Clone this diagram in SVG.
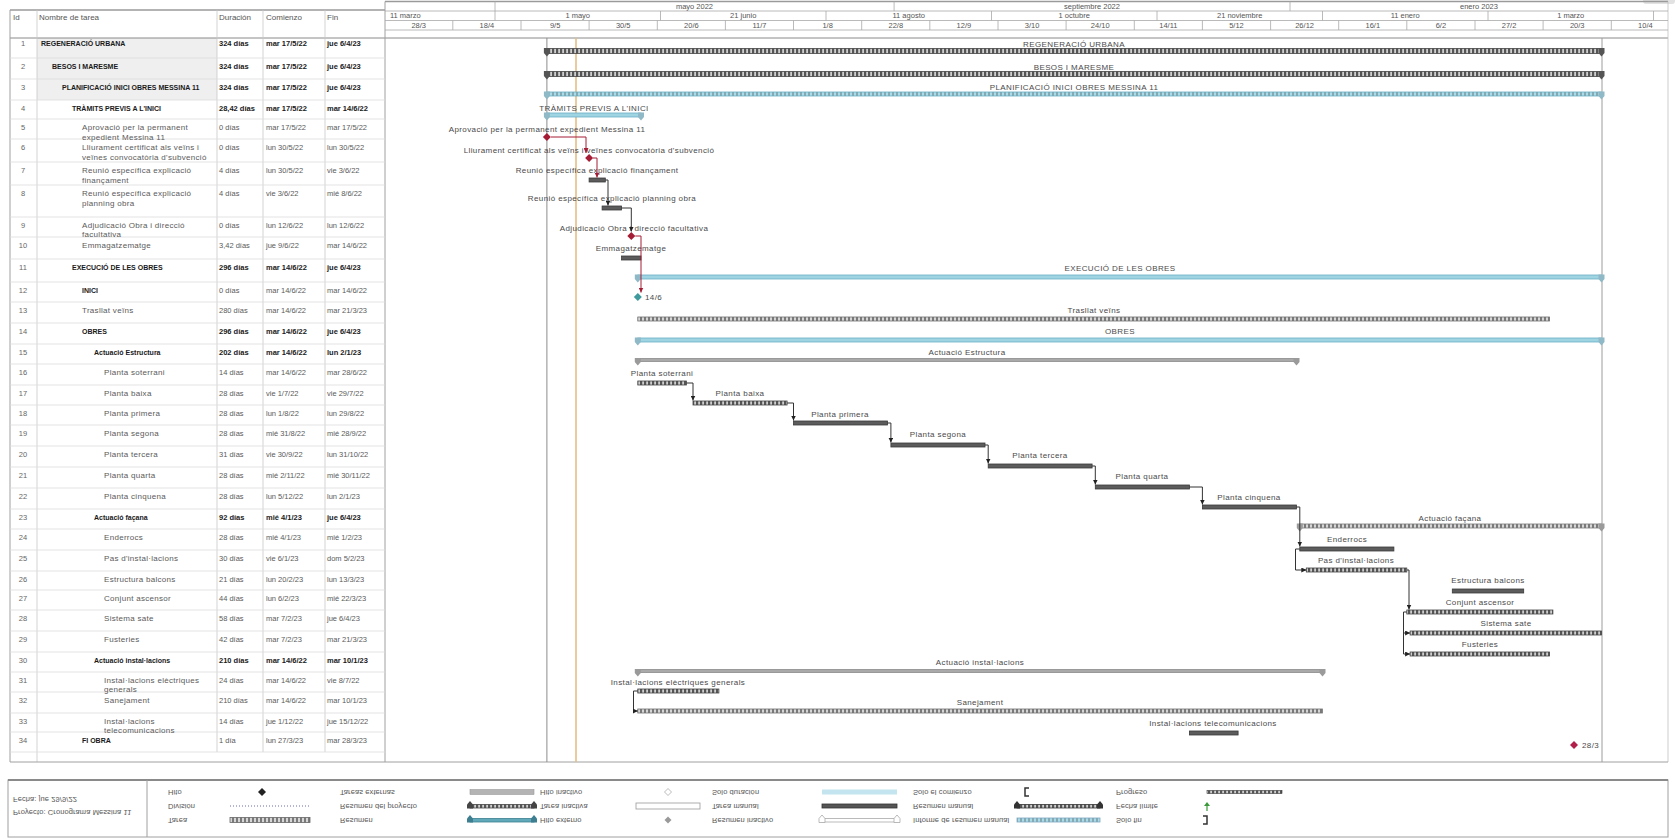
<svg xmlns="http://www.w3.org/2000/svg" width="1675" height="839" viewBox="0 0 1675 839">
<style>
text{font-family:"Liberation Sans",Arial,sans-serif}
.hd{font-size:8px;fill:#555}
.id{font-size:7.5px;fill:#666;text-anchor:middle}
.n{font-size:8px;fill:#5a5a5a;letter-spacing:0.3px}
.nb{font-size:7px;fill:#1a1a1a;font-weight:bold}
.c{font-size:7.5px;fill:#5a5a5a}
.cb{font-size:7.5px;fill:#1a1a1a;font-weight:bold}
.gl{font-size:8px;fill:#4a4a4a;text-anchor:middle;letter-spacing:0.4px}
.ts{font-size:7.5px;fill:#555;text-anchor:middle}
.lg{font-size:7.5px;fill:#555;dominant-baseline:central;letter-spacing:0.1px}
.grid{stroke:#dcdcdc;stroke-width:0.8}
.col{stroke:#c8c8c8;stroke-width:0.8}
.tl{stroke:#a8a8a8;stroke-width:0.8}
.proj{fill:url(#hd);stroke:#444;stroke-width:0.8}
.cap-dk{fill:#555}
.sumb{fill:#9fd4e3;stroke:#6aaec2;stroke-width:0.8}
.sumbh{fill:url(#hb);stroke:#6aaec2;stroke-width:0.8}
.cap-b{fill:#8fb9c6}
.sumg{fill:#a9a9a9;stroke:#8a8a8a;stroke-width:0.8}
.sumgh{fill:url(#hg);stroke:#7a7a7a;stroke-width:0.8}
.cap-g{fill:#9a9a9a}
.tk{fill:#5c5c5c;stroke:#3a3a3a;stroke-width:0.8}
.tkh{fill:url(#hd);stroke:#444;stroke-width:0.8}
.tkg{fill:url(#hg);stroke:#707070;stroke-width:0.8}
.ms-r{fill:#a51d35}
.ms-t{fill:#3e9a9c}
.lk{fill:none;stroke:#333;stroke-width:1}
.lkr{fill:none;stroke:#a51d35;stroke-width:1}
</style>
<defs>
<pattern id="hd" width="4" height="8" patternUnits="userSpaceOnUse"><rect width="4" height="8" fill="#cfcfcf"/><rect width="2.2" height="8" fill="#555"/></pattern>
<pattern id="hg" width="4" height="8" patternUnits="userSpaceOnUse"><rect width="4" height="8" fill="#d6d6d6"/><rect width="2" height="8" fill="#7a7a7a"/></pattern>
<pattern id="hb" width="4" height="8" patternUnits="userSpaceOnUse"><rect width="4" height="8" fill="#a9dbe8"/><rect width="2" height="8" fill="#86a9b2"/></pattern>
<marker id="ak" viewBox="0 0 6 6" refX="6" refY="3" markerWidth="5" markerHeight="5" orient="auto" markerUnits="userSpaceOnUse"><path d="M0,0 L6,3 L0,6 z" fill="#222"/></marker>
<marker id="ar" viewBox="0 0 6 6" refX="6" refY="3" markerWidth="5" markerHeight="5" orient="auto" markerUnits="userSpaceOnUse"><path d="M0,0 L6,3 L0,6 z" fill="#a51d35"/></marker>
</defs>

<rect width="1675" height="839" fill="#fff"/>
<rect x="1643" y="-3" width="32" height="7" rx="3" fill="#e2e2e2"/>

<!-- sheet frame, header and grid -->
<g id="sheet">
  <rect x="37" y="38" width="180" height="62" fill="#efefef"/>
  <line x1="10" y1="10" x2="385" y2="10" stroke="#9a9a9a" stroke-width="1.6"/>
  <line x1="385" y1="1.5" x2="1668" y2="1.5" stroke="#9a9a9a" stroke-width="1.4"/>
  <line x1="10" y1="38" x2="1668" y2="38" stroke="#8a8a8a" stroke-width="1"/>
  <line x1="10" y1="10" x2="10" y2="762" stroke="#a0a0a0" stroke-width="1"/>
  <line x1="37" y1="10" x2="37" y2="762" class="col"/>
  <line x1="217" y1="10" x2="217" y2="752" class="col"/>
  <line x1="263" y1="10" x2="263" y2="752" class="col"/>
  <line x1="325" y1="10" x2="325" y2="752" class="col"/>
  <line x1="385" y1="1.5" x2="385" y2="762" stroke="#a0a0a0" stroke-width="1"/>
  <line x1="1668" y1="1.5" x2="1668" y2="762" stroke="#c0c0c0" stroke-width="0.8"/>
  <line x1="10" y1="762" x2="1668" y2="762" stroke="#a0a0a0" stroke-width="1"/>
  <g class="grid">
    <line x1="10" y1="58" x2="385" y2="58"/><line x1="10" y1="79" x2="385" y2="79"/>
    <line x1="10" y1="100" x2="385" y2="100"/><line x1="10" y1="119" x2="385" y2="119"/>
    <line x1="10" y1="139" x2="385" y2="139"/><line x1="10" y1="162" x2="385" y2="162"/>
    <line x1="10" y1="185" x2="385" y2="185"/><line x1="10" y1="217" x2="385" y2="217"/>
    <line x1="10" y1="237" x2="385" y2="237"/><line x1="10" y1="259" x2="385" y2="259"/>
    <line x1="10" y1="282" x2="385" y2="282"/><line x1="10" y1="302" x2="385" y2="302"/>
    <line x1="10" y1="323" x2="385" y2="323"/><line x1="10" y1="344" x2="385" y2="344"/>
    <line x1="10" y1="364" x2="385" y2="364"/><line x1="10" y1="385" x2="385" y2="385"/>
    <line x1="10" y1="405" x2="385" y2="405"/><line x1="10" y1="425" x2="385" y2="425"/>
    <line x1="10" y1="446" x2="385" y2="446"/><line x1="10" y1="467" x2="385" y2="467"/>
    <line x1="10" y1="488" x2="385" y2="488"/><line x1="10" y1="509" x2="385" y2="509"/>
    <line x1="10" y1="529" x2="385" y2="529"/><line x1="10" y1="550" x2="385" y2="550"/>
    <line x1="10" y1="571" x2="385" y2="571"/><line x1="10" y1="590" x2="385" y2="590"/>
    <line x1="10" y1="610" x2="385" y2="610"/><line x1="10" y1="631" x2="385" y2="631"/>
    <line x1="10" y1="652" x2="385" y2="652"/><line x1="10" y1="672" x2="385" y2="672"/>
    <line x1="10" y1="692" x2="385" y2="692"/><line x1="10" y1="713" x2="385" y2="713"/>
    <line x1="10" y1="732" x2="385" y2="732"/><line x1="10" y1="752" x2="385" y2="752"/>
  </g>
  <text class="hd" x="13" y="20">Id</text>
  <text class="hd" x="39" y="20">Nombre de tarea</text>
  <text class="hd" x="219" y="20">Duración</text>
  <text class="hd" x="266" y="20">Comienzo</text>
  <text class="hd" x="327" y="20">Fin</text>
</g>

<!-- timescale -->
<g id="timescale">
  <line x1="385" y1="11" x2="1668" y2="11" class="tl"/>
  <line x1="385" y1="20.5" x2="1668" y2="20.5" class="tl"/>
  <line x1="385" y1="30" x2="1668" y2="30" class="tl"/>
  <g class="tl">
    <line x1="495" y1="1.5" x2="495" y2="11"/><line x1="894.1" y1="1.5" x2="894.1" y2="11"/><line x1="1290" y1="1.5" x2="1290" y2="11"/>
    <line x1="495" y1="11" x2="495" y2="20.5"/><line x1="660.5" y1="11" x2="660.5" y2="20.5"/><line x1="826" y1="11" x2="826" y2="20.5"/>
    <line x1="991.5" y1="11" x2="991.5" y2="20.5"/><line x1="1157" y1="11" x2="1157" y2="20.5"/><line x1="1322.5" y1="11" x2="1322.5" y2="20.5"/>
    <line x1="1488" y1="11" x2="1488" y2="20.5"/><line x1="1653.5" y1="11" x2="1653.5" y2="20.5"/>
    <line x1="452.8" y1="20.5" x2="452.8" y2="30"/><line x1="521" y1="20.5" x2="521" y2="30"/><line x1="589.1" y1="20.5" x2="589.1" y2="30"/>
    <line x1="657.3" y1="20.5" x2="657.3" y2="30"/><line x1="725.4" y1="20.5" x2="725.4" y2="30"/><line x1="793.5" y1="20.5" x2="793.5" y2="30"/>
    <line x1="861.7" y1="20.5" x2="861.7" y2="30"/><line x1="929.8" y1="20.5" x2="929.8" y2="30"/><line x1="998" y1="20.5" x2="998" y2="30"/>
    <line x1="1066.1" y1="20.5" x2="1066.1" y2="30"/><line x1="1134.3" y1="20.5" x2="1134.3" y2="30"/><line x1="1202.4" y1="20.5" x2="1202.4" y2="30"/>
    <line x1="1270.6" y1="20.5" x2="1270.6" y2="30"/><line x1="1338.7" y1="20.5" x2="1338.7" y2="30"/><line x1="1406.8" y1="20.5" x2="1406.8" y2="30"/>
    <line x1="1475" y1="20.5" x2="1475" y2="30"/><line x1="1543.1" y1="20.5" x2="1543.1" y2="30"/><line x1="1611.3" y1="20.5" x2="1611.3" y2="30"/>
  </g>
  <text class="ts" x="694.5" y="8.5">mayo 2022</text>
  <text class="ts" x="1092" y="8.5">septiembre 2022</text>
  <text class="ts" x="1479" y="8.5">enero 2023</text>
  <text class="ts" x="390" y="18" style="text-anchor:start">11 marzo</text>
  <text class="ts" x="577.7" y="18">1 mayo</text>
  <text class="ts" x="743.2" y="18">21 junio</text>
  <text class="ts" x="908.7" y="18">11 agosto</text>
  <text class="ts" x="1074.2" y="18">1 octubre</text>
  <text class="ts" x="1239.7" y="18">21 noviembre</text>
  <text class="ts" x="1405.2" y="18">11 enero</text>
  <text class="ts" x="1570.7" y="18">1 marzo</text>
  <text class="ts" x="418.7" y="27.5">28/3</text><text class="ts" x="486.9" y="27.5">18/4</text>
  <text class="ts" x="555.1" y="27.5">9/5</text><text class="ts" x="623.2" y="27.5">30/5</text>
  <text class="ts" x="691.4" y="27.5">20/6</text><text class="ts" x="759.5" y="27.5">11/7</text>
  <text class="ts" x="827.6" y="27.5">1/8</text><text class="ts" x="895.8" y="27.5">22/8</text>
  <text class="ts" x="963.9" y="27.5">12/9</text><text class="ts" x="1032.1" y="27.5">3/10</text>
  <text class="ts" x="1100.2" y="27.5">24/10</text><text class="ts" x="1168.4" y="27.5">14/11</text>
  <text class="ts" x="1236.5" y="27.5">5/12</text><text class="ts" x="1304.6" y="27.5">26/12</text>
  <text class="ts" x="1372.8" y="27.5">16/1</text><text class="ts" x="1440.9" y="27.5">6/2</text>
  <text class="ts" x="1509.1" y="27.5">27/2</text><text class="ts" x="1577.2" y="27.5">20/3</text>
  <text class="ts" x="1645.4" y="27.5">10/4</text>
</g>

<!-- project start / finish and status lines -->
<g id="markers">
  <line x1="546.9" y1="38" x2="546.9" y2="762" stroke="#8c8c8c" stroke-width="1"/>
  <line x1="1602" y1="38" x2="1602" y2="762" stroke="#9c9c9c" stroke-width="1"/>
  <line x1="576" y1="38" x2="576" y2="762" stroke="#e6bd86" stroke-width="1.6"/>
</g>

<g id="task-1">
  <text class="id" x="23" y="46">1</text>
  <text class="nb" x="41" y="46">REGENERACIÓ URBANA</text>
  <text class="cb" x="219" y="46">324 días</text><text class="cb" x="266" y="46">mar 17/5/22</text><text class="cb" x="327" y="46">jue 6/4/23</text>
  <rect class="proj" x="546.9" y="48.5" width="1054.6" height="5"/>
  <polygon class="cap-dk" points="543.9,48 549.9,48 549.9,53 546.9,56.5 543.9,53"/>
  <polygon class="cap-dk" points="1598.5,48 1604.5,48 1604.5,53 1601.5,56.5 1598.5,53"/>
  <text class="gl" x="1074" y="47">REGENERACIÓ URBANA</text>
</g>
<g id="task-2">
  <text class="id" x="23" y="69">2</text>
  <text class="nb" x="52" y="69">BESOS I MARESME</text>
  <text class="cb" x="219" y="69">324 días</text><text class="cb" x="266" y="69">mar 17/5/22</text><text class="cb" x="327" y="69">jue 6/4/23</text>
  <rect class="proj" x="546.9" y="71.5" width="1054.6" height="5"/>
  <polygon class="cap-dk" points="543.9,71 549.9,71 549.9,76 546.9,79.5 543.9,76"/>
  <polygon class="cap-dk" points="1598.5,71 1604.5,71 1604.5,76 1601.5,79.5 1598.5,76"/>
  <text class="gl" x="1074" y="70">BESOS I MARESME</text>
</g>
<g id="task-3">
  <text class="id" x="23" y="90">3</text>
  <text class="nb" x="62" y="90">PLANIFICACIÓ INICI OBRES MESSINA 11</text>
  <text class="cb" x="219" y="90">324 días</text><text class="cb" x="266" y="90">mar 17/5/22</text><text class="cb" x="327" y="90">jue 6/4/23</text>
  <rect class="sumbh" x="546.9" y="92" width="1054.6" height="4"/>
  <polygon class="cap-b" points="543.9,91.5 549.9,91.5 549.9,96 546.9,99.5 543.9,96"/>
  <polygon class="cap-b" points="1598.5,91.5 1604.5,91.5 1604.5,96 1601.5,99.5 1598.5,96"/>
  <text class="gl" x="1074" y="90">PLANIFICACIÓ INICI OBRES MESSINA 11</text>
</g>
<g id="task-4">
  <text class="id" x="23" y="111">4</text>
  <text class="nb" x="72" y="111">TRÀMITS PREVIS A L'INICI</text>
  <text class="cb" x="219" y="111">28,42 días</text><text class="cb" x="266" y="111">mar 17/5/22</text><text class="cb" x="327" y="111">mar 14/6/22</text>
  <rect class="sumb" x="546.9" y="113" width="94.1" height="4"/>
  <polygon class="cap-b" points="543.9,112.5 549.9,112.5 549.9,117 546.9,120.5 543.9,117"/>
  <polygon class="cap-b" points="638,112.5 644,112.5 644,117 641,120.5 638,117"/>
  <text class="gl" x="594" y="111">TRÀMITS PREVIS A L'INICI</text>
</g>
<g id="task-5">
  <text class="id" x="23" y="130">5</text>
  <text class="n" x="82" y="130">Aprovació per la permanent</text>
  <text class="n" x="82" y="139.5">expedient Messina 11</text>
  <text class="c" x="219" y="130">0 días</text><text class="c" x="266" y="130">mar 17/5/22</text><text class="c" x="327" y="130">mar 17/5/22</text>
  <polygon class="ms-r" points="546.9,133 550.9,137 546.9,141 542.9,137"/>
  <text class="gl" x="547" y="132">Aprovació per la permanent expedient Messina 11</text>
</g>
<g id="task-6">
  <text class="id" x="23" y="150">6</text>
  <text class="n" x="82" y="150">Lliurament certificat als veïns i</text>
  <text class="n" x="82" y="159.5">veïnes convocatòria d'subvenció</text>
  <text class="c" x="219" y="150">0 días</text><text class="c" x="266" y="150">lun 30/5/22</text><text class="c" x="327" y="150">lun 30/5/22</text>
  <polygon class="ms-r" points="589.1,154 593.1,158 589.1,162 585.1,158"/>
  <text class="gl" x="589" y="153">Lliurament certificat als veïns i veïnes convocatòria d'subvenció</text>
</g>
<g id="task-7">
  <text class="id" x="23" y="173">7</text>
  <text class="n" x="82" y="173">Reunió específica explicació</text>
  <text class="n" x="82" y="182.5">finançament</text>
  <text class="c" x="219" y="173">4 días</text><text class="c" x="266" y="173">lun 30/5/22</text><text class="c" x="327" y="173">vie 3/6/22</text>
  <rect class="tk" x="589.1" y="178" width="16.2" height="4"/>
  <text class="gl" x="597" y="173">Reunió específica explicació finançament</text>
</g>
<g id="task-8">
  <text class="id" x="23" y="196">8</text>
  <text class="n" x="82" y="196">Reunió específica explicació</text>
  <text class="n" x="82" y="206">planning obra</text>
  <text class="c" x="219" y="196">4 días</text><text class="c" x="266" y="196">vie 3/6/22</text><text class="c" x="327" y="196">mié 8/6/22</text>
  <rect class="tk" x="602.1" y="206" width="19.5" height="4"/>
  <text class="gl" x="612" y="201">Reunió específica explicació planning obra</text>
</g>
<g id="task-9">
  <text class="id" x="23" y="228">9</text>
  <text class="n" x="82" y="228">Adjudicació Obra i direcció</text>
  <text class="n" x="82" y="237">facultativa</text>
  <text class="c" x="219" y="228">0 días</text><text class="c" x="266" y="228">lun 12/6/22</text><text class="c" x="327" y="228">lun 12/6/22</text>
  <polygon class="ms-r" points="631.3,232 635.3,236 631.3,240 627.3,236"/>
  <text class="gl" x="634" y="231">Adjudicació Obra i direcció facultativa</text>
</g>
<g id="task-10">
  <text class="id" x="23" y="248">10</text>
  <text class="n" x="82" y="248">Emmagatzematge</text>
  <text class="c" x="219" y="248">3,42 días</text><text class="c" x="266" y="248">jue 9/6/22</text><text class="c" x="327" y="248">mar 14/6/22</text>
  <rect class="tk" x="621.6" y="256" width="19.4" height="4"/>
  <text class="gl" x="631" y="251">Emmagatzematge</text>
</g>
<g id="task-11">
  <text class="id" x="23" y="270">11</text>
  <text class="nb" x="72" y="270">EXECUCIÓ DE LES OBRES</text>
  <text class="cb" x="219" y="270">296 días</text><text class="cb" x="266" y="270">mar 14/6/22</text><text class="cb" x="327" y="270">jue 6/4/23</text>
  <rect class="sumb" x="637.8" y="275" width="963.7" height="4"/>
  <polygon class="cap-b" points="634.8,274.5 640.8,274.5 640.8,279 637.8,282.5 634.8,279"/>
  <polygon class="cap-b" points="1598.5,274.5 1604.5,274.5 1604.5,279 1601.5,282.5 1598.5,279"/>
  <text class="gl" x="1120" y="271">EXECUCIÓ DE LES OBRES</text>
</g>
<g id="task-12">
  <text class="id" x="23" y="293">12</text>
  <text class="nb" x="82" y="293">INICI</text>
  <text class="c" x="219" y="293">0 días</text><text class="c" x="266" y="293">mar 14/6/22</text><text class="c" x="327" y="293">mar 14/6/22</text>
  <polygon class="ms-t" points="637.8,293 641.8,297 637.8,301 633.8,297"/>
  <text class="gl" x="645" y="299.5" style="text-anchor:start">14/6</text>
</g>
<g id="task-13">
  <text class="id" x="23" y="313">13</text>
  <text class="n" x="82" y="313">Trasllat veïns</text>
  <text class="c" x="219" y="313">280 días</text><text class="c" x="266" y="313">mar 14/6/22</text><text class="c" x="327" y="313">mar 21/3/23</text>
  <rect class="tkg" x="637.8" y="317" width="911.8" height="4"/>
  <text class="gl" x="1094" y="313">Trasllat veïns</text>
</g>
<g id="task-14">
  <text class="id" x="23" y="334">14</text>
  <text class="nb" x="82" y="334">OBRES</text>
  <text class="cb" x="219" y="334">296 días</text><text class="cb" x="266" y="334">mar 14/6/22</text><text class="cb" x="327" y="334">jue 6/4/23</text>
  <rect class="sumb" x="637.8" y="338" width="963.7" height="4"/>
  <polygon class="cap-b" points="634.8,337.5 640.8,337.5 640.8,342 637.8,345.5 634.8,342"/>
  <polygon class="cap-b" points="1598.5,337.5 1604.5,337.5 1604.5,342 1601.5,345.5 1598.5,342"/>
  <text class="gl" x="1120" y="334">OBRES</text>
</g>
<g id="task-15">
  <text class="id" x="23" y="355">15</text>
  <text class="nb" x="94" y="355">Actuació Estructura</text>
  <text class="cb" x="219" y="355">202 días</text><text class="cb" x="266" y="355">mar 14/6/22</text><text class="cb" x="327" y="355">lun 2/1/23</text>
  <rect class="sumg" x="637.8" y="358.5" width="658.7" height="3"/>
  <polygon class="cap-g" points="634.8,358 640.8,358 640.8,362 637.8,365.5 634.8,362"/>
  <polygon class="cap-g" points="1293.5,358 1299.5,358 1299.5,362 1296.5,365.5 1293.5,362"/>
  <text class="gl" x="967" y="355">Actuació Estructura</text>
</g>
<g id="task-16">
  <text class="id" x="23" y="375">16</text>
  <text class="n" x="104" y="375">Planta soterrani</text>
  <text class="c" x="219" y="375">14 días</text><text class="c" x="266" y="375">mar 14/6/22</text><text class="c" x="327" y="375">mar 28/6/22</text>
  <rect class="tkh" x="637.8" y="381" width="48.7" height="4"/>
  <text class="gl" x="662" y="376">Planta soterrani</text>
</g>
<g id="task-17">
  <text class="id" x="23" y="396">17</text>
  <text class="n" x="104" y="396">Planta baixa</text>
  <text class="c" x="219" y="396">28 días</text><text class="c" x="266" y="396">vie 1/7/22</text><text class="c" x="327" y="396">vie 29/7/22</text>
  <rect class="tkh" x="693" y="401" width="94.1" height="4"/>
  <text class="gl" x="740" y="396">Planta baixa</text>
</g>
<g id="task-18">
  <text class="id" x="23" y="416">18</text>
  <text class="n" x="104" y="416">Planta primera</text>
  <text class="c" x="219" y="416">28 días</text><text class="c" x="266" y="416">lun 1/8/22</text><text class="c" x="327" y="416">lun 29/8/22</text>
  <rect class="tk" x="793.5" y="421" width="94.1" height="4"/>
  <text class="gl" x="840" y="417">Planta primera</text>
</g>
<g id="task-19">
  <text class="id" x="23" y="436">19</text>
  <text class="n" x="104" y="436">Planta segona</text>
  <text class="c" x="219" y="436">28 días</text><text class="c" x="266" y="436">mié 31/8/22</text><text class="c" x="327" y="436">mié 28/9/22</text>
  <rect class="tk" x="890.9" y="443" width="94.1" height="4"/>
  <text class="gl" x="938" y="437">Planta segona</text>
</g>
<g id="task-20">
  <text class="id" x="23" y="457">20</text>
  <text class="n" x="104" y="457">Planta tercera</text>
  <text class="c" x="219" y="457">31 días</text><text class="c" x="266" y="457">vie 30/9/22</text><text class="c" x="327" y="457">lun 31/10/22</text>
  <rect class="tk" x="988.2" y="464" width="103.9" height="4"/>
  <text class="gl" x="1040" y="458">Planta tercera</text>
</g>
<g id="task-21">
  <text class="id" x="23" y="478">21</text>
  <text class="n" x="104" y="478">Planta quarta</text>
  <text class="c" x="219" y="478">28 días</text><text class="c" x="266" y="478">mié 2/11/22</text><text class="c" x="327" y="478">mié 30/11/22</text>
  <rect class="tk" x="1095.3" y="485" width="94.1" height="4"/>
  <text class="gl" x="1142" y="479">Planta quarta</text>
</g>
<g id="task-22">
  <text class="id" x="23" y="499">22</text>
  <text class="n" x="104" y="499">Planta cinquena</text>
  <text class="c" x="219" y="499">28 días</text><text class="c" x="266" y="499">lun 5/12/22</text><text class="c" x="327" y="499">lun 2/1/23</text>
  <rect class="tk" x="1202.4" y="505" width="94.1" height="4"/>
  <text class="gl" x="1249" y="500">Planta cinquena</text>
</g>
<g id="task-23">
  <text class="id" x="23" y="520">23</text>
  <text class="nb" x="94" y="520">Actuació façana</text>
  <text class="cb" x="219" y="520">92 días</text><text class="cb" x="266" y="520">mié 4/1/23</text><text class="cb" x="327" y="520">jue 6/4/23</text>
  <rect class="sumgh" x="1299.8" y="524" width="301.7" height="4"/>
  <polygon class="cap-g" points="1296.8,523.5 1302.8,523.5 1302.8,528 1299.8,531.5 1296.8,528"/>
  <polygon class="cap-g" points="1598.5,523.5 1604.5,523.5 1604.5,528 1601.5,531.5 1598.5,528"/>
  <text class="gl" x="1450" y="521">Actuació façana</text>
</g>
<g id="task-24">
  <text class="id" x="23" y="540">24</text>
  <text class="n" x="104" y="540">Enderrocs</text>
  <text class="c" x="219" y="540">28 días</text><text class="c" x="266" y="540">mié 4/1/23</text><text class="c" x="327" y="540">mié 1/2/23</text>
  <rect class="tk" x="1299.8" y="547" width="94.1" height="4"/>
  <text class="gl" x="1347" y="542">Enderrocs</text>
</g>
<g id="task-25">
  <text class="id" x="23" y="561">25</text>
  <text class="n" x="104" y="561">Pas d'instal·lacions</text>
  <text class="c" x="219" y="561">30 días</text><text class="c" x="266" y="561">vie 6/1/23</text><text class="c" x="327" y="561">dom 5/2/23</text>
  <rect class="tkh" x="1306.3" y="568" width="100.5" height="4"/>
  <text class="gl" x="1356" y="563">Pas d'instal·lacions</text>
</g>
<g id="task-26">
  <text class="id" x="23" y="582">26</text>
  <text class="n" x="104" y="582">Estructura balcons</text>
  <text class="c" x="219" y="582">21 días</text><text class="c" x="266" y="582">lun 20/2/23</text><text class="c" x="327" y="582">lun 13/3/23</text>
  <rect class="tk" x="1452.3" y="589" width="71.4" height="4"/>
  <text class="gl" x="1488" y="583">Estructura balcons</text>
</g>
<g id="task-27">
  <text class="id" x="23" y="601">27</text>
  <text class="n" x="104" y="601">Conjunt ascensor</text>
  <text class="c" x="219" y="601">44 días</text><text class="c" x="266" y="601">lun 6/2/23</text><text class="c" x="327" y="601">mié 22/3/23</text>
  <rect class="tkh" x="1406.8" y="610" width="146.1" height="4"/>
  <text class="gl" x="1480" y="605">Conjunt ascensor</text>
</g>
<g id="task-28">
  <text class="id" x="23" y="621">28</text>
  <text class="n" x="104" y="621">Sistema sate</text>
  <text class="c" x="219" y="621">58 días</text><text class="c" x="266" y="621">mar 7/2/23</text><text class="c" x="327" y="621">jue 6/4/23</text>
  <rect class="tkh" x="1410.1" y="631" width="191.4" height="4"/>
  <text class="gl" x="1506" y="626">Sistema sate</text>
</g>
<g id="task-29">
  <text class="id" x="23" y="642">29</text>
  <text class="n" x="104" y="642">Fusteries</text>
  <text class="c" x="219" y="642">42 días</text><text class="c" x="266" y="642">mar 7/2/23</text><text class="c" x="327" y="642">mar 21/3/23</text>
  <rect class="tkh" x="1410.1" y="652" width="139.5" height="4"/>
  <text class="gl" x="1480" y="647">Fusteries</text>
</g>
<g id="task-30">
  <text class="id" x="23" y="663">30</text>
  <text class="nb" x="94" y="663">Actuació instal·lacions</text>
  <text class="cb" x="219" y="663">210 días</text><text class="cb" x="266" y="663">mar 14/6/22</text><text class="cb" x="327" y="663">mar 10/1/23</text>
  <rect class="sumg" x="637.8" y="669.5" width="684.7" height="3"/>
  <polygon class="cap-g" points="634.8,669 640.8,669 640.8,673 637.8,676.5 634.8,673"/>
  <polygon class="cap-g" points="1319.5,669 1325.5,669 1325.5,673 1322.5,676.5 1319.5,673"/>
  <text class="gl" x="980" y="665">Actuació instal·lacions</text>
</g>
<g id="task-31">
  <text class="id" x="23" y="683">31</text>
  <text class="n" x="104" y="683">Instal·lacions elèctriques</text>
  <text class="n" x="104" y="692">generals</text>
  <text class="c" x="219" y="683">24 días</text><text class="c" x="266" y="683">mar 14/6/22</text><text class="c" x="327" y="683">vie 8/7/22</text>
  <rect class="tkh" x="637.8" y="689" width="81.1" height="4"/>
  <text class="gl" x="678" y="685">Instal·lacions elèctriques generals</text>
</g>
<g id="task-32">
  <text class="id" x="23" y="703">32</text>
  <text class="n" x="104" y="703">Sanejament</text>
  <text class="c" x="219" y="703">210 días</text><text class="c" x="266" y="703">mar 14/6/22</text><text class="c" x="327" y="703">mar 10/1/23</text>
  <rect class="tkg" x="637.8" y="709" width="684.7" height="4"/>
  <text class="gl" x="980" y="705">Sanejament</text>
</g>
<g id="task-33">
  <text class="id" x="23" y="724">33</text>
  <text class="n" x="104" y="724">Instal·lacions</text>
  <text class="n" x="104" y="733">telecomunicacions</text>
  <text class="c" x="219" y="724">14 días</text><text class="c" x="266" y="724">jue 1/12/22</text><text class="c" x="327" y="724">jue 15/12/22</text>
  <rect class="tk" x="1189.4" y="731" width="48.7" height="4"/>
  <text class="gl" x="1213" y="726">Instal·lacions telecomunicacions</text>
</g>
<g id="task-34">
  <text class="id" x="23" y="743">34</text>
  <text class="nb" x="82" y="743">FI OBRA</text>
  <text class="c" x="219" y="743">1 día</text><text class="c" x="266" y="743">lun 27/3/23</text><text class="c" x="327" y="743">mar 28/3/23</text>
  <polygon class="ms-r" points="1574,741 1578,745 1574,749 1570,745" style="fill:#b0204a"/>
  <text class="gl" x="1582" y="747.5" style="text-anchor:start">28/3</text>
</g>

<!-- dependency links -->
<g id="links">
  <path class="lkr" d="M551,137 H586 V153" marker-end="url(#ar)"/>
  <path class="lkr" d="M593,158 H597 V177.5" marker-end="url(#ar)"/>
  <path class="lk" d="M605.3,180 H608 V205.5" marker-end="url(#ak)"/>
  <path class="lk" d="M621.6,208 H631.3 V231.5" marker-end="url(#ak)"/>
  <path class="lkr" d="M635.3,236 H641 V292.5" marker-end="url(#ar)"/>
  <path class="lk" d="M686.5,383 H693 V400.5" marker-end="url(#ak)"/>
  <path class="lk" d="M787.1,403 H793.5 V420.5" marker-end="url(#ak)"/>
  <path class="lk" d="M887.6,423 H890.9 V442.5" marker-end="url(#ak)"/>
  <path class="lk" d="M985,445 H988.2 V463.5" marker-end="url(#ak)"/>
  <path class="lk" d="M1092.1,466 H1095.3 V484.5" marker-end="url(#ak)"/>
  <path class="lk" d="M1189.4,487 H1202.4 V504.5" marker-end="url(#ak)"/>
  <path class="lk" d="M1296.5,507 H1299.8 V546.5" marker-end="url(#ak)"/>
  <path class="lk" d="M1299.8,549 H1295.5 V570 H1306.3" marker-end="url(#ak)"/>
  <path class="lk" d="M1406.8,570 H1409 V609.5" marker-end="url(#ak)"/>
  <path class="lk" d="M1406.8,612 H1403.5 V633 H1410.1" marker-end="url(#ak)"/>
  <path class="lk" d="M1403.5,633 V654 H1410.1" marker-end="url(#ak)"/>
  <path class="lk" d="M637.8,691 H633.5 V711 H637.8" marker-end="url(#ak)"/>
</g>

<!-- legend panel (drawn mirrored top-to-bottom) -->
<g id="legend">
  <rect x="8" y="780" width="1660" height="57" fill="#fff" stroke="#a0a0a0" stroke-width="1"/>
  <line x1="8" y1="780" x2="1668" y2="780" stroke="#8a8a8a" stroke-width="2"/>
  <line x1="147" y1="780" x2="147" y2="837" stroke="#a0a0a0" stroke-width="1"/>
  <g transform="matrix(1 0 0 -1 0 1617)">
    <text class="lg" x="13" y="805">Proyecto: Cronograma Messina 11</text>
    <text class="lg" x="13" y="818">Fecha: jue 29/9/22</text>

    <text class="lg" x="168" y="797">Tarea</text>
    <text class="lg" x="168" y="811">División</text>
    <text class="lg" x="168" y="825">Hito</text>
    <rect x="230" y="794.5" width="80" height="5" fill="url(#hg)" stroke="#666" stroke-width="0.8"/>
    <line x1="230" y1="811" x2="310" y2="811" stroke="#6a6aa8" stroke-width="1" stroke-dasharray="1,2"/>
    <polygon points="262,821 266,825 262,829 258,825" fill="#222"/>

    <text class="lg" x="340" y="797">Resumen</text>
    <text class="lg" x="340" y="811">Resumen del proyecto</text>
    <text class="lg" x="340" y="825">Tareas externas</text>
    <rect x="470" y="795" width="64" height="3.5" fill="#5fa9ba" stroke="#3d7f90" stroke-width="0.8"/>
    <polygon points="467,794.5 473,794.5 473,798.5 470,802 467,798.5" fill="#3d7f90"/>
    <polygon points="531,794.5 537,794.5 537,798.5 534,802 531,798.5" fill="#3d7f90"/>
    <rect x="470" y="809" width="64" height="3.5" fill="url(#hd)" stroke="#444" stroke-width="0.8"/>
    <polygon points="467,808.5 473,808.5 473,812.5 470,816 467,812.5" fill="#444"/>
    <polygon points="531,808.5 537,808.5 537,812.5 534,816 531,812.5" fill="#444"/>
    <rect x="470" y="822.5" width="64" height="5" fill="#b4b4b4" stroke="#9a9a9a" stroke-width="0.6"/>

    <text class="lg" x="540" y="797">Hito externo</text>
    <text class="lg" x="540" y="811">Tarea inactiva</text>
    <text class="lg" x="540" y="825">Hito inactivo</text>
    <polygon points="668,793.5 671.5,797 668,800.5 664.5,797" fill="#9a9a9a"/>
    <rect x="636" y="808" width="64" height="6" fill="#fff" stroke="#999" stroke-width="0.8"/>
    <polygon points="668,821.5 671.5,825 668,828.5 664.5,825" fill="#fff" stroke="#aaa" stroke-width="0.8"/>

    <text class="lg" x="712" y="797">Resumen inactivo</text>
    <text class="lg" x="712" y="811">Tarea manual</text>
    <text class="lg" x="712" y="825">Solo duración</text>
    <rect x="822" y="795" width="75" height="3.5" fill="#fff" stroke="#aaa" stroke-width="0.8"/>
    <polygon points="819,794.5 825,794.5 825,798.5 822,802 819,798.5" fill="#fff" stroke="#aaa" stroke-width="0.8"/>
    <polygon points="894,794.5 900,794.5 900,798.5 897,802 894,798.5" fill="#fff" stroke="#aaa" stroke-width="0.8"/>
    <rect x="822" y="809" width="75" height="4" fill="#555" stroke="#333" stroke-width="0.8"/>
    <rect x="822" y="822.5" width="75" height="5" fill="#c4e5f0"/>

    <text class="lg" x="913" y="797">Informe de resumen manual</text>
    <text class="lg" x="913" y="811">Resumen manual</text>
    <text class="lg" x="913" y="825">Solo el comienzo</text>
    <rect x="1017" y="795" width="83" height="4" fill="url(#hb)" stroke="#7fa8c0" stroke-width="0.8"/>
    <rect x="1017" y="809" width="83" height="3.5" fill="url(#hd)" stroke="#333" stroke-width="0.8"/>
    <polygon points="1014,808.5 1020,808.5 1020,812.5 1017,816 1014,812.5" fill="#333"/>
    <polygon points="1097,808.5 1103,808.5 1103,812.5 1100,816 1097,812.5" fill="#333"/>
    <path d="M1029,821 H1025 V829 H1029" fill="none" stroke="#333" stroke-width="1.5"/>

    <text class="lg" x="1116" y="797">Solo fin</text>
    <text class="lg" x="1116" y="811">Fecha límite</text>
    <text class="lg" x="1116" y="825">Progreso</text>
    <path d="M1203,793 H1207 V801 H1203" fill="none" stroke="#333" stroke-width="1.5"/>
    <path d="M1207,806 V811" stroke="#3a9a3a" stroke-width="1.2"/>
    <polygon points="1204,811 1210,811 1207,815" fill="#3a9a3a"/>
    <rect x="1207" y="823.5" width="75" height="3" fill="url(#hd)" stroke="#333" stroke-width="0.6"/>
  </g>
</g>
</svg>
